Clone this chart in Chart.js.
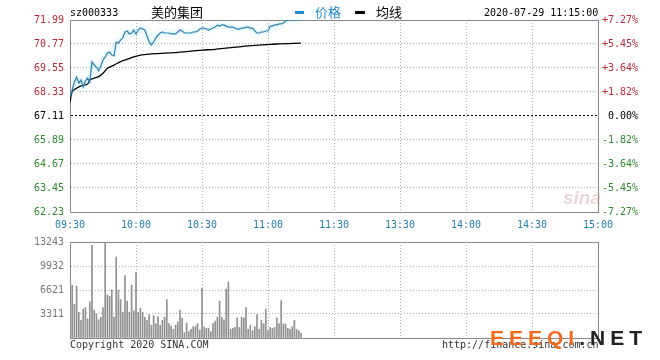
<!DOCTYPE html>
<html>
<head>
<meta charset="utf-8">
<script src="https://cdn.jsdelivr.net/npm/chart.js@4.4.1/dist/chart.umd.min.js"></script>
<style>
  html,body{margin:0;padding:0;background:#fff;}
  #wrap{position:relative;width:660px;height:360px;overflow:hidden;background:#fff;}
  canvas{position:absolute;left:0;}
  .t{position:absolute;white-space:nowrap;font-family:"DejaVu Sans Mono",monospace;font-size:10px;line-height:12px;color:#000;}
  .cjk{position:absolute;white-space:nowrap;font-family:"Noto Sans CJK SC",sans-serif;font-size:13px;line-height:14px;}
  .dash{position:absolute;height:3px;}
</style>
</head>
<body>
<div id="wrap">
  <canvas id="c1" width="660" height="230" style="top:0"></canvas>
  <canvas id="c2" width="660" height="120" style="top:230px"></canvas>

  <div class="t" style="left:70px;top:7px;">sz000333</div>
  <div class="cjk" style="left:151px;top:5px;color:#000;">美的集团</div>
  <div class="dash" style="left:295px;top:11px;width:9px;background:#1f8ad0;"></div>
  <div class="cjk" style="left:315px;top:5px;color:#1f8ad0;">价格</div>
  <div class="dash" style="left:355px;top:11px;width:10px;background:#000;"></div>
  <div class="cjk" style="left:376px;top:5px;color:#000;">均线</div>
  <div class="t" style="left:484px;top:7px;">2020-07-29 11:15:00</div>

  <div style="position:absolute;left:563px;top:187px;font-family:'Liberation Sans',sans-serif;font-style:italic;font-weight:bold;font-size:19px;color:rgba(200,150,150,0.4);">sina</div>

  <div class="t" style="left:70px;top:339px;color:#333;">Copyright 2020 SINA.COM</div>
  <div class="t" style="left:442px;top:339px;color:#333;">http://finance.sina.com.cn</div>
  <div style="position:absolute;left:490px;top:326px;font-family:'Liberation Sans',sans-serif;font-weight:bold;font-size:21px;line-height:24px;letter-spacing:5px;white-space:nowrap;"><span style="color:#f26b1d;">EEEQI</span><span style="color:#222;">.NET</span></div>
</div>

<script>
// ---------- data ----------
const stockCode = 'sz000333';
const stockName = '美的集团';
const prevClose = 67.11;
const timeSlots = [0, 30, 60, 90, 120, 150, 180, 210, 240];
const timeLabels = ['09:30','10:00','10:30','11:00','11:30','13:30','14:00','14:30','15:00'];
const priceTicks = [62.23, 63.45, 64.67, 65.89, 67.11, 68.33, 69.55, 70.77, 71.99];
const priceLabels = ['62.23','63.45','64.67','65.89','67.11','68.33','69.55','70.77','71.99'];
const pctLabels = ['-7.27%','-5.45%','-3.64%','-1.82%','0.00%','+1.82%','+3.64%','+5.45%','+7.27%'];
const volTicks = [0, 3311, 6621, 9932, 13243];
const volLabels = ['', '3311', '6621', '9932', '13243'];

// price per minute (minute index 0 = 09:30)
const price = [68.08,68.43,68.84,69.09,68.79,68.94,68.58,68.89,69.04,68.84,
  69.86,69.70,69.60,69.40,69.65,69.96,70.11,70.31,70.36,70.21,
  70.16,70.87,70.82,70.97,71.08,71.38,71.43,71.28,71.33,71.48,
  71.28,71.48,71.58,71.53,71.48,71.18,70.87,70.72,70.87,71.08,
  71.23,71.33,71.38,71.33,71.33,71.33,71.28,71.28,71.28,71.38,
  71.48,71.43,71.33,71.33,71.33,71.33,71.38,71.38,71.43,71.53,
  71.58,71.58,71.53,71.48,71.53,71.58,71.63,71.74,71.68,71.74,
  71.74,71.68,71.63,71.63,71.63,71.58,71.53,71.53,71.58,71.58,
  71.63,71.63,71.58,71.58,71.43,71.33,71.33,71.38,71.38,71.43,
  71.43,71.68,71.68,71.74,71.74,71.79,71.79,71.84,71.94,71.99,
  71.99,71.99,71.99,71.99,71.99,71.99];

// average line, read at these minutes
const avgMin = [0,1,3,5,8,9,11,13,15,17,20,23,26,29,32,36,47,60,66,81,94,105];
const avgVal = [67.80,68.35,68.52,68.64,68.74,68.94,69.03,69.11,69.28,69.54,69.70,69.87,69.99,70.12,70.21,70.26,70.33,70.46,70.50,70.67,70.77,70.81];

// volume per minute
const volume = [4635,7283,4635,7150,3531,2428,3973,4193,2648,4988,
  12800,3840,3310,2516,2869,4193,13243,5959,5738,6621,
  2869,11167,6621,5297,3531,8607,5076,3531,7283,3752,
  9049,3531,4105,3531,2869,2428,3222,1766,3090,1986,
  2957,1766,2428,2869,5297,1986,1633,1192,1766,2207,
  3840,2737,750,2075,883,1192,1545,1633,1986,1104,
  6842,1545,1324,1324,883,1986,2339,2869,5076,2869,
  2516,6753,7724,1192,1324,1457,2781,1457,2869,2781,
  4193,1192,1766,1015,1545,3222,1192,2428,1986,3973,
  1015,1457,1324,1457,2781,1986,5164,1986,1898,1324,
  1192,1545,2428,1192,1015,662];

// ---------- styles ----------
const MONO = {family: "'DejaVu Sans Mono', monospace", size: 10};
const GRID = '#b0b0b0';
const BORDER = '#888888';
const RED = '#c0283a', GREEN = '#2e8a2e';

function priceColor(v){ return Math.abs(v - prevClose) < 1e-6 ? '#000' : (v > prevClose ? RED : GREEN); }

const glow = {
  id: 'glow',
  beforeDatasetDraw(chart, args){
    if (args.index === 0 && chart.canvas.id === 'c1') {
      chart.ctx.save();
      chart.ctx.shadowColor = 'rgba(110,205,240,0.75)';
      chart.ctx.shadowBlur = 4;
    }
  },
  afterDatasetDraw(chart, args){
    if (args.index === 0 && chart.canvas.id === 'c1') chart.ctx.restore();
  }
};

const xCommon = {
  type: 'linear', min: 0, max: 240, offset: false,
  afterBuildTicks: s => { s.ticks = timeSlots.map(v => ({value: v})); },
  grid: {color: ctx => (ctx.tick && ctx.tick.value === 240) ? BORDER : GRID, drawTicks: false, offset: false},
  border: {display: true, color: BORDER, dash: ctx => (ctx.tick && ctx.tick.value === 240) ? [] : [1, 2]}
};

new Chart(document.getElementById('c1'), {
  type: 'line',
  data: {
    datasets: [
      {label: '价格', data: price.map((v, i) => ({x: i, y: v})), borderColor: '#2d80b2', borderWidth: 1.2, pointRadius: 0, tension: 0, order: 1},
      {label: '均线', data: avgMin.map((m, i) => ({x: m, y: avgVal[i]})), borderColor: '#000', borderWidth: 1.3, pointRadius: 0, tension: 0.3, order: 2}
    ]
  },
  plugins: [glow],
  options: {
    responsive: false, animation: false, devicePixelRatio: 1,
    layout: {padding: {top: 20, right: 22, left: 0, bottom: 0}},
    plugins: {legend: {display: false}, tooltip: {enabled: false}},
    scales: {
      x: Object.assign({}, xCommon, {
        ticks: {callback: (v, i) => timeLabels[i], color: '#1f7fae', font: MONO, padding: 7, maxRotation: 0, autoSkip: false},
        afterFit: s => { s.height = 18; }
      }),
      y: {
        position: 'left', min: priceTicks[0], max: priceTicks[priceTicks.length - 1],
        afterBuildTicks: s => { s.ticks = priceTicks.map(v => ({value: v})); },
        ticks: {callback: (v, i) => priceLabels[i], color: ctx => priceColor(ctx.tick.value), font: MONO, padding: 6, autoSkip: false},
        grid: {
          drawTicks: false,
          color: ctx => {
            const v = ctx.tick ? ctx.tick.value : 0;
            if (Math.abs(v - prevClose) < 1e-6) return '#000';
            if (Math.abs(v - priceTicks[priceTicks.length - 1]) < 1e-6) return BORDER;
            return GRID;
          }
        },
        border: {
          display: true, color: BORDER,
          dash: ctx => {
            const v = ctx.tick ? ctx.tick.value : 0;
            if (Math.abs(v - prevClose) < 1e-6) return [2, 2];
            if (Math.abs(v - priceTicks[priceTicks.length - 1]) < 1e-6) return [];
            return [1, 2];
          }
        },
        afterFit: s => { s.width = 70; }
      },
      y2: {
        position: 'right', min: priceTicks[0], max: priceTicks[priceTicks.length - 1],
        afterBuildTicks: s => { s.ticks = priceTicks.map(v => ({value: v})); },
        ticks: {callback: (v, i) => pctLabels[i], color: ctx => priceColor(ctx.tick.value), font: MONO, padding: 4, crossAlign: 'far', autoSkip: false},
        grid: {display: false, drawTicks: false},
        border: {display: true, color: BORDER},
        afterFit: s => { s.width = 40; }
      }
    }
  }
});

new Chart(document.getElementById('c2'), {
  type: 'bar',
  data: {
    datasets: [{label: '成交量', data: volume.map((v, i) => ({x: i, y: v})), backgroundColor: '#909090', borderWidth: 0, barThickness: 1}]
  },
  options: {
    responsive: false, animation: false, devicePixelRatio: 1,
    layout: {padding: {top: 10, right: 62, left: 0, bottom: 0}},
    plugins: {legend: {display: false}, tooltip: {enabled: false}},
    scales: {
      x: Object.assign({}, xCommon, {
        ticks: {display: false},
        afterFit: s => { s.height = 10; }
      }),
      y: {
        position: 'left', min: 0, max: volTicks[volTicks.length - 1],
        afterBuildTicks: s => { s.ticks = volTicks.map(v => ({value: v})); },
        ticks: {callback: (v, i) => volLabels[i], color: '#777', font: MONO, padding: 6, autoSkip: false},
        grid: {drawTicks: false, color: ctx => (ctx.tick && ctx.tick.value === volTicks[volTicks.length - 1]) ? BORDER : GRID},
        border: {display: true, color: BORDER, dash: ctx => (ctx.tick && ctx.tick.value === volTicks[volTicks.length - 1]) ? [] : [1, 2]},
        afterFit: s => { s.width = 70; }
      }
    }
  }
});
</script>
</body>
</html>
